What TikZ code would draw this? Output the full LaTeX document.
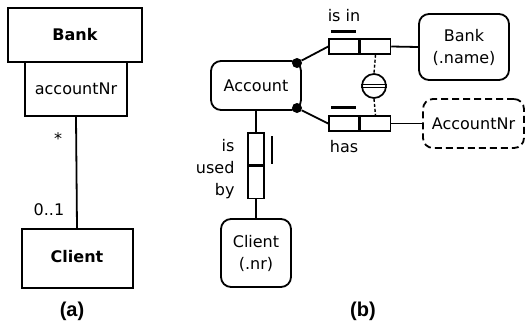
\documentclass[tikz,border=0pt]{standalone}
\usepackage{fontspec}
\setmainfont{DejaVu Sans}
\newfontfamily\capfont{Liberation Sans}
\usepackage{tikz}
\usetikzlibrary{positioning}
\tikzset{
  umlbox/.style={
    rectangle, draw, line width=2pt, inner sep=0pt
  },
  entity/.style={
    rectangle, draw, rounded corners=10pt, line width=1.8pt,
    inner sep=0pt, align=center
  },
  valuetype/.style={entity, dash pattern=on 7pt off 4pt},
  rolebox/.style={
    rectangle, draw, line width=1.5pt,
    minimum width=30pt, minimum height=15pt, inner sep=0pt
  },
  vrolebox/.style={rolebox, minimum width=16pt, minimum height=32pt},
  dot/.style={circle, fill, inner sep=0pt, minimum size=10pt},
  uniq/.style={circle, draw, line width=1.7pt, minimum size=24pt, inner sep=0pt},
  link/.style={line width=1.8pt},
  conlink/.style={line width=1.4pt, dash pattern=on 3pt off 2pt},
  ubar/.style={line width=2.5pt},
  caption/.style={font=\capfont\bfseries\fontsize{20}{24}\selectfont},
}

\begin{document}
\begin{tikzpicture}[x=1pt, y=-1pt, font=\fontsize{16}{22}\selectfont]
  \useasboundingbox (0,0) rectangle (528,327);

  %% ── (a) UML classes ──
  \node[umlbox, minimum width=134pt, minimum height=54pt]
    (bankA) at (75,35) {\bfseries Bank};
  \node[umlbox, minimum width=102pt, minimum height=54pt]
    (qual) at (76,89) {accountNr};
  \node[umlbox, minimum width=111pt, minimum height=59pt]
    (clientA) at (77,258.5) {\raisebox{5pt}{\bfseries Client}};

  \draw[link] (qual.south) -- (clientA.north);
  \node (multA) at (58,139) {*};
  \node (multB) at (49,210) {0..1};

  %% ── (b) ORM schema ──
  \node[entity, minimum width=90pt, minimum height=49pt]
    (account) at (256,85.5) {Account};
  \node[entity, minimum width=90pt, minimum height=66pt]
    (bankB) at (464,47) {Bank\\(.name)};
  \node[valuetype, minimum width=101pt, minimum height=49pt]
    (accnr) at (473.5,123.5) {AccountNr};
  \node[entity, minimum width=70pt, minimum height=68pt]
    (clientB) at (256,253) {Client\\(.nr)};

  %% ── Role boxes ──
  \node[rolebox] (isinL) at (344,46.5) {};
  \node[rolebox, right=0pt of isinL] (isinR) {};
  \node[rolebox] (hasL) at (344,123.5) {};
  \node[rolebox, right=0pt of hasL] (hasR) {};
  \node[vrolebox] (usedT) at (256,149) {};
  \node[vrolebox, below=0pt of usedT] (usedB) {};

  \node[above=13pt of isinL] (isinlbl) {is in};
  \node[below=5pt of hasL] (haslbl) {has};
  \node[anchor=east, align=right] (usedlbl) at (238,169) {is\\used\\by};

  %% ── Uniqueness bars ──
  \draw[ubar] ([xshift=3pt,yshift=7pt]isinL.north west)
    -- ([xshift=-4pt,yshift=7pt]isinL.north east);
  \draw[ubar] ([xshift=3pt,yshift=8pt]hasL.north west)
    -- ([xshift=-4pt,yshift=8pt]hasL.north east);
  \draw[ubar] ([xshift=7pt,yshift=-4pt]usedT.north east)
    -- ([xshift=7pt,yshift=2pt]usedT.south east);

  %% ── Mandatory dots and connectors ──
  \node[dot] (dotT) at (297,63) {};
  \node[dot] (dotB) at (297,108) {};
  \draw[link] (dotT) -- (isinL.west);
  \draw[link] (dotB) -- (hasL.west);
  \draw[link] (isinR.east) -- (bankB.west);
  \draw[link] (hasR.east) -- (accnr.west);
  \draw[link] (account.south) -- (usedT.north);
  \draw[link] (usedB.south) -- (clientB.north);

  %% ── External uniqueness ──
  \node[uniq] (extU) at (374,86) {};
  \draw[line width=1.3pt] ([yshift=1.7pt]extU.west) -- ([yshift=1.7pt]extU.east);
  \draw[line width=1.3pt] ([yshift=-1.7pt]extU.west) -- ([yshift=-1.7pt]extU.east);
  \draw[conlink] (isinR.south) -- (extU.north);
  \draw[conlink] (extU.south) -- (hasR.north);

  %% ── Captions ──
  \node[caption] (capA) at (72,311) {(a)};
  \node[caption] (capB) at (363,311) {(b)};
\end{tikzpicture}
\end{document}
